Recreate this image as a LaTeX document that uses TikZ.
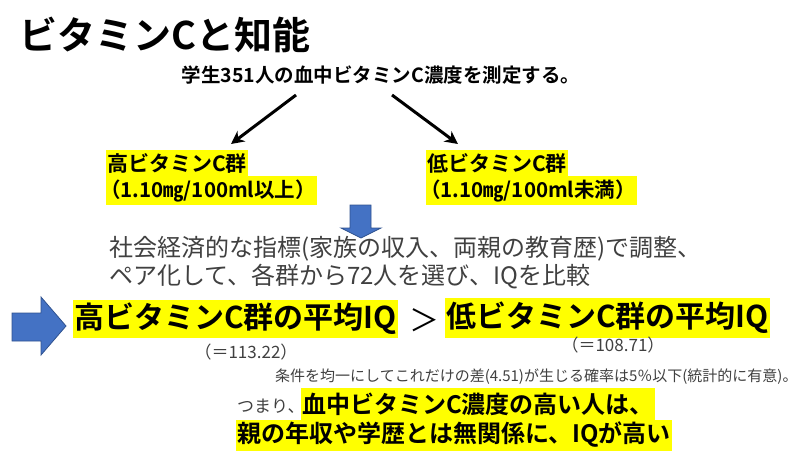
\documentclass[tikz,border=0pt]{standalone}
\usepackage{fontspec}
\setmainfont{Noto Sans CJK JP}[BoldFont={* Bold}]
\usetikzlibrary{arrows.meta,positioning}
\definecolor{hlyellow}{RGB}{255,255,0}
\definecolor{officeblue}{RGB}{68,114,196}
\definecolor{blueedge}{RGB}{47,82,143}
\definecolor{textgray}{RGB}{64,64,64}
\newcommand{\fs}[1]{\fontsize{#1}{#1}\selectfont}

\begin{document}
\begin{tikzpicture}[
    x=1pt, y=-1pt,
    hl/.style={fill=hlyellow, inner xsep=1pt, inner ysep=0pt, anchor=west, text=black},
    note/.style={text=textgray, inner sep=0pt},
    arrow/.style={-{Stealth[length=13pt,width=13pt]}, line width=3pt},
    bluearrow/.style={fill=officeblue, draw=blueedge, line width=0.8pt}
]
\useasboundingbox (0,0) rectangle (800,450);

% title and first step
\node[anchor=west, inner sep=0pt, font=\bfseries\fs{38}] (title) at (19,35) {ビタミンCと知能};
\node[inner sep=0pt, font=\bfseries\fs{19.5}] (sub) at (381,75) {学生351人の血中ビタミンC濃度を測定する。};

% two groups
\node[hl, minimum height=26, font=\bfseries\fs{21}] (hi1) at (106,163) {高ビタミンC群};
\node[hl, minimum height=29, font=\bfseries\fs{20.5}, below=0pt of hi1.south west, anchor=north west] (hi2) {\kern-.35em（1.10㎎/100ml以上）};
\node[hl, minimum height=26, font=\bfseries\fs{21}] (lo1) at (426,163) {低ビタミンC群};
\node[hl, minimum height=29, font=\bfseries\fs{20.5}, below=0pt of lo1.south west, anchor=north west] (lo2) {\kern-.35em（1.10㎎/100ml未満）};

\coordinate (lfrom) at (296,95);
\coordinate (lto) at (231,144);
\coordinate (rfrom) at (392,95);
\coordinate (rto) at (458,144);
\draw[arrow] (lfrom) -- (lto);
\draw[arrow] (rfrom) -- (rto);

% matching
\draw[bluearrow] (350,205) -- (371,205) -- (371,228) -- (381,228) -- (361,238)
    -- (341,228) -- (350,228) -- cycle;
\node[note, anchor=north west, align=left, font=\fontsize{24}{28}\selectfont] (method) at (109,236)
    {社会経済的な指標(家族の収入、両親の教育歴)で調整、\\ペア化して、各群から72人を選び、IQを比較};

% result
\draw[bluearrow] (12,313) -- (41,313) -- (41,297) -- (66,326) -- (41,355) -- (41,341)
    -- (12,341) -- cycle;
\node[hl, minimum height=38, font=\bfseries\fs{30}] (hiavg) at (73,319) {高ビタミンC群の平均IQ};
\node[inner sep=0pt, font=\fs{30}] (gt) at (424,320) {＞};
\node[hl, minimum height=40, font=\bfseries\fs{30}] (loavg) at (445,318) {低ビタミンC群の平均IQ};
\node[note, font=\fs{17}] (hival) at (246,352) {（＝113.22）};
\node[note, font=\fs{17}] (loval) at (613,345) {（＝108.71）};
\node[note, anchor=west, font=\fs{15}] (sig) at (275,377) {条件を均一にしてこれだけの差(4.51)が生じる確率は5％以下(統計的に有意)。};

% conclusion
\node[note, anchor=west, font=\fs{17}] (tsumari) at (237,406) {つまり、};
\node[hl, minimum height=32, font=\bfseries\fs{24}] (concl1) at (301,404) {血中ビタミンC濃度の高い人は、};
\node[hl, minimum height=31, font=\bfseries\fs{24}] (concl2) at (236,435) {親の年収や学歴とは無関係に、IQが高い};

\end{tikzpicture}
\end{document}
